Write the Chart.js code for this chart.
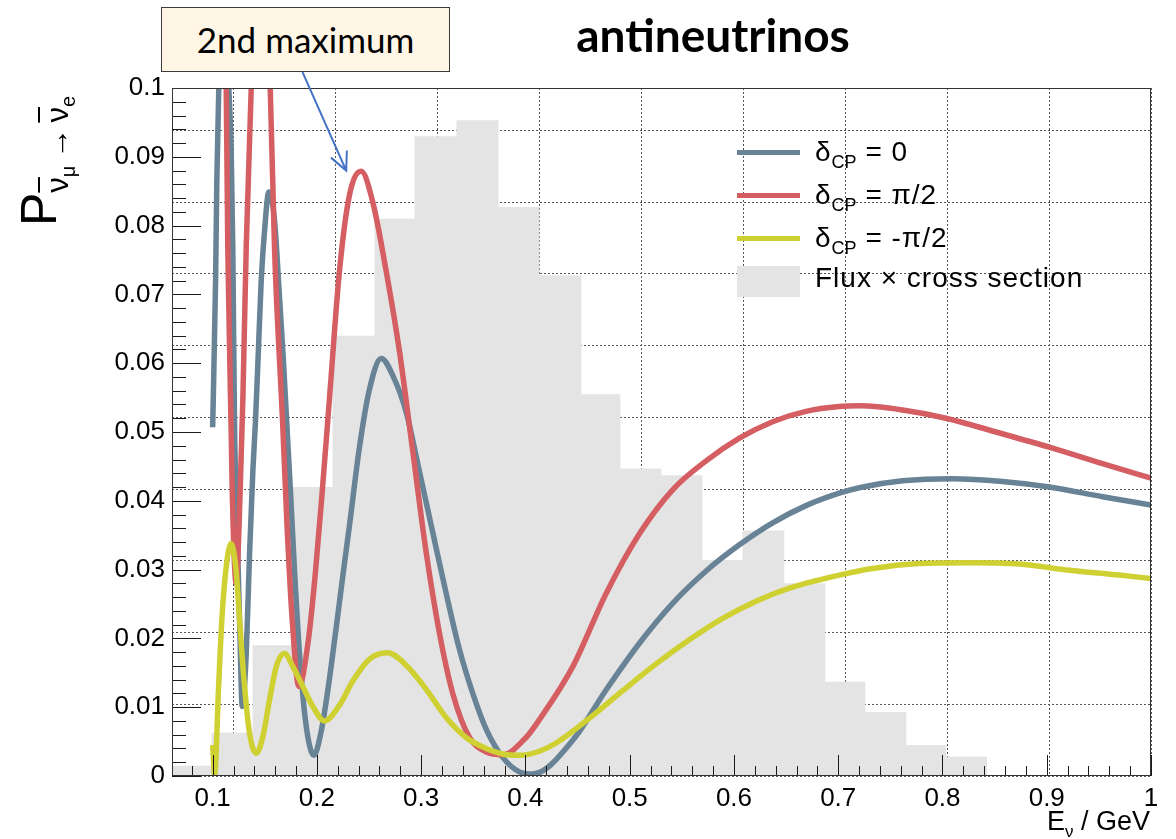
<!DOCTYPE html>
<html lang="en">
<head>
<meta charset="UTF-8" />
<title>antineutrinos</title>
<script src="https://cdn.jsdelivr.net/npm/chart.js@4"></script>
<style>
  html, body { margin: 0; padding: 0; background: #fff; }
  #wrap { position: relative; width: 1176px; height: 839px; overflow: hidden; }
  #wrap div { position: absolute; white-space: nowrap; }
  #title {
    left: 513px; width: 400px; top: 12px; text-align: center;
    font: bold 46px/46px Lato, sans-serif; color: #000;
  }
  #note {
    left: 161px; top: 7px; width: 289px; height: 65px; box-sizing: border-box;
    border: 1.5px solid #3a3a3a; background: #fff6e6;
    font: 35px/62px Lato, sans-serif; text-align: center; color: #000;
  }
  #ytitle {
    left: 14px; top: 226px; transform: rotate(-90deg); transform-origin: 0 0;
    font: 50px/50px "Liberation Sans", Arial, sans-serif; color: #000;
  }
  #ytitle .s1 { font-size: 31px; vertical-align: -12px; }
  #ytitle .s2 { font-size: 20px; vertical-align: -7px; }
  #ytitle .ov { text-decoration: overline; text-decoration-thickness: 2px; }
  #ytitle .arr { font-size: 31px; padding: 0 5px 0 7px; }
  #xtitle {
    right: 26px; top: 808px;
    font: 27px/27px "Liberation Sans", Arial, sans-serif; color: #000;
  }
  #xtitle .xs { font-size: 17px; vertical-align: -7px; }
  .lgline { left: 737px; width: 63px; height: 5px; }
  .lgbox { left: 737px; width: 63px; height: 31px; }
  .lgtext { left: 815px; font: 28px/28px "Liberation Sans", Arial, sans-serif; letter-spacing: 1px; color: #000; }
  .lgtext sub { font-size: 18px; vertical-align: -7px; letter-spacing: 0; }
</style>
</head>
<body>
<div id="wrap">
  <canvas id="chart" width="1176" height="839"></canvas>
  <div id="title">antineutrinos</div>
  <div id="note">2nd maximum</div>
  <div id="ytitle">P<span class="s1"><span class="ov">ν</span><span class="s2">μ</span><span class="arr">→</span><span class="ov">ν</span><span class="s2">e</span></span></div>
  <div id="xtitle">E<span class="xs">ν</span> / GeV</div>
</div>

<script>
  // axis ranges and tick labels
  const xMin = 0.061, xMax = 1.0;
  const yMin = 0, yMax = 0.1;
  const xTickValues = [0.1, 0.2, 0.3, 0.4, 0.5, 0.6, 0.7, 0.8, 0.9, 1.0];
  const yTickValues = [0, 0.01, 0.02, 0.03, 0.04, 0.05, 0.06, 0.07, 0.08, 0.09, 0.1];

  // delta_CP = 0
  const blueE = [0.1, 0.1028, 0.104, 0.1059, 0.111, 0.1155, 0.1177, 0.1193, 0.121, 0.1232, 0.1258, 0.1284,
    0.1322, 0.1354, 0.1386, 0.1411, 0.144, 0.1466, 0.1498, 0.1539, 0.1593, 0.1641, 0.168, 0.1711, 0.1744,
    0.1785, 0.1833, 0.189, 0.197, 0.2041, 0.2105, 0.218, 0.2265, 0.2313, 0.2408, 0.2504, 0.2617, 0.2728,
    0.2856, 0.2984, 0.3111, 0.3239, 0.3367, 0.3495, 0.3623, 0.3782, 0.3942, 0.407, 0.4454, 0.4773, 0.5093,
    0.5412, 0.5733, 0.6052, 0.6371, 0.6691, 0.701, 0.7202, 0.7617, 0.8097, 0.8576, 0.9024, 0.9535, 1.0];
  const blueP = [0.0507, 0.072, 0.0866, 0.1001, 0.122, 0.1, 0.0914, 0.0769, 0.0507, 0.0372, 0.0227, 0.0101,
    0.0178, 0.0324, 0.0445, 0.0517, 0.0624, 0.0721, 0.0793, 0.0849, 0.0808, 0.0696, 0.06, 0.0512, 0.042,
    0.0299, 0.0178, 0.0081, 0.003, 0.0065, 0.0125, 0.021, 0.031, 0.0365, 0.0478, 0.0562, 0.0607, 0.0582,
    0.0529, 0.0442, 0.0354, 0.0266, 0.0184, 0.012, 0.0068, 0.0027, 0.0006, 0.0003, 0.0052, 0.0125, 0.0193,
    0.0251, 0.0298, 0.0336, 0.0368, 0.0393, 0.0411, 0.0419, 0.0429, 0.0432, 0.0428, 0.042, 0.0406, 0.0394];

  // delta_CP = pi/2
  const redE = [0.1, 0.107, 0.113, 0.1145, 0.1177, 0.1187, 0.1225, 0.1265, 0.129, 0.1322, 0.137, 0.146,
    0.1552, 0.1593, 0.1673, 0.1711, 0.1763, 0.1827, 0.192, 0.1985, 0.2044, 0.2121, 0.2217, 0.2313,
    0.2425, 0.2536, 0.2664, 0.2792, 0.292, 0.3048, 0.3175, 0.3303, 0.3463, 0.3623, 0.3782, 0.4006, 0.4134,
    0.4454, 0.4773, 0.5093, 0.5412, 0.5733, 0.6052, 0.6371, 0.6691, 0.701, 0.7202, 0.7617, 0.8034, 0.8513,
    0.9024, 0.9535, 1.0];
  const redP = [0.14, 0.125, 0.1, 0.0769, 0.0507, 0.042, 0.028, 0.042, 0.055, 0.0769, 0.1, 0.125,
    0.1, 0.0769, 0.0507, 0.0372, 0.0227, 0.013, 0.02, 0.0295, 0.04, 0.055, 0.0735, 0.0845,
    0.0879, 0.0834, 0.0734, 0.0617, 0.0471, 0.0325, 0.0208, 0.012, 0.0056, 0.0035, 0.0031, 0.0056, 0.0082,
    0.0159, 0.0265, 0.0352, 0.0416, 0.0458, 0.0491, 0.0515, 0.053, 0.0537, 0.0538, 0.0532, 0.052, 0.05,
    0.0478, 0.0454, 0.0433];

  // delta_CP = -pi/2
  const yellowE = [0.1, 0.1019, 0.1057, 0.1088, 0.1127, 0.1176, 0.1224, 0.1258, 0.1306, 0.1354, 0.1418,
    0.1481, 0.1545, 0.161, 0.1689, 0.1769, 0.1865, 0.1961, 0.2073, 0.2217, 0.2344, 0.2504, 0.2679, 0.2856,
    0.3048, 0.3239, 0.3431, 0.3623, 0.3782, 0.3942, 0.4134, 0.4294, 0.4614, 0.4933, 0.5253, 0.5572, 0.5892,
    0.6212, 0.6531, 0.701, 0.7298, 0.7777, 0.8257, 0.8736, 0.9216, 0.9694, 1.0];
  const yellowP = [0.0045, 0.0002, 0.013, 0.0227, 0.03, 0.0338, 0.03, 0.0227, 0.013, 0.0062, 0.0033,
    0.0057, 0.011, 0.0159, 0.0178, 0.0159, 0.013, 0.0101, 0.008, 0.0103, 0.0138, 0.017, 0.0179, 0.0161,
    0.0126, 0.0085, 0.0056, 0.004, 0.0032, 0.003, 0.0036, 0.0048, 0.0084, 0.0124, 0.0163, 0.0198, 0.0229,
    0.0254, 0.0273, 0.0292, 0.0301, 0.0309, 0.031, 0.0308, 0.0299, 0.0292, 0.0287];

  // flux x cross section histogram (bin edges and contents)
  const binEdges = [0.058, 0.0989, 0.1383, 0.1757, 0.215, 0.2552, 0.2936, 0.3338, 0.3741, 0.4134, 0.4537,
    0.4911, 0.5304, 0.5697, 0.6081, 0.6483, 0.6876, 0.726, 0.7653, 0.8036, 0.843];
  const binHeights = [0.0015, 0.0063, 0.019, 0.042, 0.064, 0.081, 0.093, 0.0953, 0.0827, 0.0728, 0.0555,
    0.0447, 0.0437, 0.0314, 0.0357, 0.028, 0.0137, 0.0093, 0.0045, 0.0028];

  const legendSymbols = ['δ', 'δ', 'δ'];
  const legendSubs = ['CP', 'CP', 'CP'];
  const legendRests = [' = 0', ' = π/2', ' = -π/2'];
  const histLabel = 'Flux × cross section';

  const colBlue = '#688296', colRed = '#d45e62', colYellow = '#cfd031', colHist = '#e4e4e4';

  // annotation arrow, in data units (start under the box, tip near the 2nd maximum)
  const arrowFrom = { x: 0.1862, y: 0.1023 };
  const arrowTo = { x: 0.2281, y: 0.0880 };

  const pts = (xs, ys) => xs.map((x, i) => ({ x: x, y: ys[i] }));
  const fmt = v => String(+Number(v).toFixed(3));

  const curve = (label, xs, ys, color) => ({
    label: label,
    data: pts(xs, ys),
    borderColor: color,
    borderWidth: 5.5,
    pointRadius: 0,
    cubicInterpolationMode: 'monotone',
    capBezierPoints: false,
    fill: false
  });

  // ROOT style inner ticks + frame, and the annotation arrow
  const frameTicks = {
    id: 'frameTicks',
    afterDatasetsDraw(chart) {
      const { ctx, chartArea: a, scales: { x, y } } = chart;
      ctx.save();
      ctx.strokeStyle = '#1a1a1a';
      ctx.lineWidth = 1;
      ctx.beginPath();
      for (let i = 0; i <= 50; i++) {
        const py = Math.round(y.getPixelForValue(i * 0.002)) + 0.5;
        const len = i % 5 === 0 ? 29 : 14;
        ctx.moveTo(a.left, py);
        ctx.lineTo(a.left + len, py);
      }
      for (let i = 0; i <= 50; i++) {
        const v = i * 0.02;
        if (v < xMin) continue;
        const px = Math.round(x.getPixelForValue(v)) + 0.5;
        const len = i % 5 === 0 ? 21 : 10;
        ctx.moveTo(px, a.bottom);
        ctx.lineTo(px, a.bottom - len);
      }
      ctx.stroke();
      ctx.strokeStyle = '#333';
      ctx.strokeRect(a.left + 0.5, a.top + 0.5, a.right - a.left - 1, a.bottom - a.top - 1);
      ctx.restore();
    },
    afterDraw(chart) {
      const { ctx, scales: { x, y } } = chart;
      const x0 = x.getPixelForValue(arrowFrom.x), y0 = y.getPixelForValue(arrowFrom.y);
      const x1 = x.getPixelForValue(arrowTo.x), y1 = y.getPixelForValue(arrowTo.y);
      const ang = Math.atan2(y1 - y0, x1 - x0);
      ctx.save();
      ctx.strokeStyle = '#4472c4';
      ctx.lineWidth = 2;
      ctx.beginPath();
      ctx.moveTo(x0, y0);
      ctx.lineTo(x1, y1);
      ctx.moveTo(x1 - 20 * Math.cos(ang - 0.45), y1 - 20 * Math.sin(ang - 0.45));
      ctx.lineTo(x1, y1);
      ctx.lineTo(x1 - 20 * Math.cos(ang + 0.45), y1 - 20 * Math.sin(ang + 0.45));
      ctx.stroke();
      ctx.restore();
    }
  };

  new Chart(document.getElementById('chart'), {
    type: 'line',
    data: {
      datasets: [
        curve('δCP = -π/2', yellowE, yellowP, colYellow),
        curve('δCP = π/2', redE, redP, colRed),
        curve('δCP = 0', blueE, blueP, colBlue),
        {
          label: histLabel,
          data: binEdges.map((e, i) => ({ x: e, y: i < binHeights.length ? binHeights[i] : 0 })),
          stepped: 'before',
          borderWidth: 0,
          borderColor: colHist,
          backgroundColor: colHist,
          pointRadius: 0,
          fill: 'origin'
        }
      ]
    },
    options: {
      responsive: false,
      animation: false,
      layout: { padding: { left: 0, top: 88, right: 25, bottom: 0 } },
      plugins: { legend: { display: false }, tooltip: { enabled: false } },
      scales: {
        x: {
          type: 'linear', position: 'bottom', min: xMin, max: xMax,
          afterFit: s => { s.height = 63; },
          afterBuildTicks: s => { s.ticks = xTickValues.map(v => ({ value: v })); },
          ticks: { callback: fmt, padding: 7, color: '#000', maxRotation: 0, autoSkip: false,
                   font: { family: 'Liberation Sans', size: 26 } },
          grid: { display: false, drawTicks: false },
          border: { display: false }
        },
        y: {
          type: 'linear', position: 'left', min: yMin, max: yMax,
          afterFit: s => { s.width = 172; },
          afterBuildTicks: s => { s.ticks = yTickValues.map(v => ({ value: v })); },
          ticks: { callback: fmt, padding: 7, color: '#000', autoSkip: false,
                   font: { family: 'Liberation Sans', size: 26 } },
          grid: { display: false, drawTicks: false },
          border: { display: false }
        },
        // dotted background grid of the original, which sits off the tick marks
        gx: {
          type: 'linear', axis: 'x', position: 'bottom', min: -0.6, max: 9,
          afterFit: s => { s.height = 0; },
          ticks: { display: false, stepSize: 1, includeBounds: false },
          grid: { color: '#555', lineWidth: 1, drawTicks: false },
          border: { display: false, dash: [2, 2] }
        },
        gy: {
          type: 'linear', axis: 'y', position: 'left', min: 0, max: 9.59,
          afterFit: s => { s.width = 0; },
          ticks: { display: false, stepSize: 1, includeBounds: false },
          grid: { color: '#555', lineWidth: 1, drawTicks: false },
          border: { display: false, dash: [2, 2] }
        }
      }
    },
    plugins: [frameTicks]
  });

  // legend with sub-scripted labels
  const wrap = document.getElementById('wrap');
  const legendColors = [colBlue, colRed, colYellow];
  for (let i = 0; i < 4; i++) {
    const mid = 152 + i * 43;
    const sw = document.createElement('div');
    if (i < 3) {
      sw.className = 'lgline';
      sw.style.top = (mid - 2.5) + 'px';
      sw.style.background = legendColors[i];
    } else {
      sw.className = 'lgbox';
      sw.style.top = (mid - 15.5) + 'px';
      sw.style.background = colHist;
    }
    wrap.appendChild(sw);
    const tx = document.createElement('div');
    tx.className = 'lgtext';
    tx.style.top = (mid - 14) + 'px';
    if (i < 3) {
      tx.innerHTML = legendSymbols[i] + '<sub>' + legendSubs[i] + '</sub>' + legendRests[i];
    } else {
      tx.style.top = (mid - 17) + 'px';
      tx.textContent = histLabel;
    }
    wrap.appendChild(tx);
  }
</script>
</body>
</html>
